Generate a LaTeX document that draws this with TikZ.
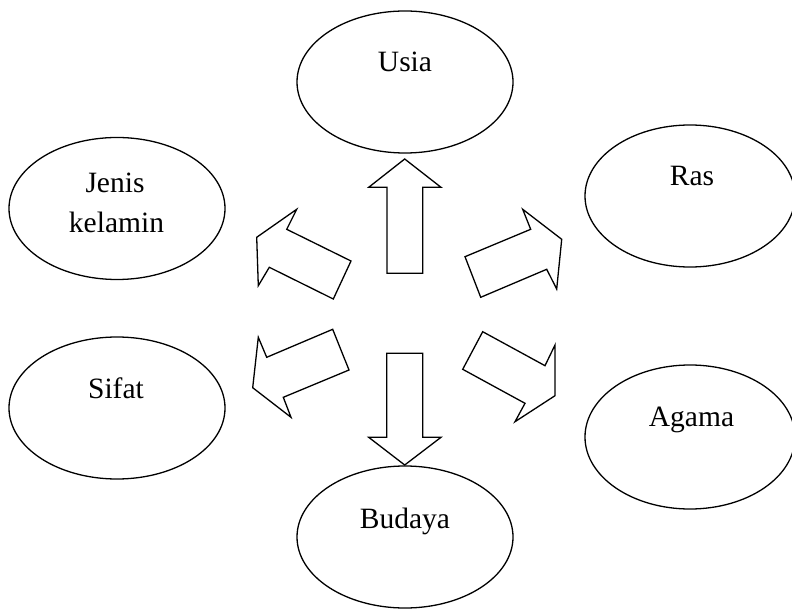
\documentclass[tikz,border=0pt]{standalone}
\usepackage{fontspec}
\setmainfont{Liberation Serif}
\usetikzlibrary{shapes.geometric}
\begin{document}
\begin{tikzpicture}[x=1pt,y=-1pt,
  oval/.style={draw=black,line width=1.3pt,ellipse,inner sep=0pt,fill=white},
  txt/.style={anchor=base,inner sep=0pt,font=\fontsize{29.5}{40}\selectfont,align=center},
  blockarrow/.style={draw=black,line width=1.3pt,fill=white,line join=miter}]
\useasboundingbox (0,0) rectangle (792,609);
% ellipses
\node[oval,minimum width=216pt,minimum height=142pt] (usia) at (405,82) {};
\node[oval,minimum width=216pt,minimum height=142pt] (jenis) at (117,208.5) {};
\node[oval,minimum width=210pt,minimum height=142pt] (ras) at (690,196) {};
\node[oval,minimum width=216pt,minimum height=142pt] (sifat) at (117,408) {};
\node[oval,minimum width=210pt,minimum height=144pt] (agama) at (690,437) {};
\node[oval,minimum width=216pt,minimum height=142pt] (budaya) at (405,537) {};
% texts
\node[txt] (usiaT) at (405,71.7) {Usia};
\node[txt] (jenisT1) at (115,193) {Jenis};
\node[txt] (jenisT2) at (116.5,233) {kelamin};
\node[txt] (rasT) at (692,186) {Ras};
\node[txt] (sifatT) at (116,398) {Sifat};
\node[txt] (agamaT) at (691.5,426) {Agama};
\node[txt] (budayaT) at (405,528) {Budaya};
% block arrows
% up (to Usia)
\draw[blockarrow] (387,273.3) -- (387,187.3) -- (368.7,187.3) -- (404.7,159) -- (441,187.3) -- (422.7,187.3) -- (422.7,273.3) -- cycle;
% down (to Budaya)
\draw[blockarrow] (386.7,353.3) -- (422.7,353.3) -- (422.7,437.3) -- (441,437.3) -- (404.7,465) -- (368.7,437.3) -- (386.7,437.3) -- cycle;
% upper-left (to Jenis kelamin)
\draw[blockarrow] (351,261) -- (286.7,229.3) -- (296.7,209.3) -- (256.7,237.3) -- (258.3,285.7) -- (269.3,267.3) -- (333.3,299) -- cycle;
% upper-right (to Ras)
\draw[blockarrow] (465,256.7) -- (530.7,229.3) -- (522.7,209.3) -- (561.7,239.3) -- (556.7,289) -- (546.7,269.3) -- (480.7,297.3) -- cycle;
% lower-left (to Sifat)
\draw[blockarrow] (332.7,329.3) -- (266.7,357.3) -- (258.3,337.3) -- (252.7,387.7) -- (291,417.3) -- (283.3,397.3) -- (349,370) -- cycle;
% lower-right (to Agama)
\draw[blockarrow] (482.7,331.7) -- (545,365.7) -- (555,345) -- (555,395.7) -- (515,421.7) -- (525,403.3) -- (462.7,369.3) -- cycle;
\end{tikzpicture}
\end{document}
